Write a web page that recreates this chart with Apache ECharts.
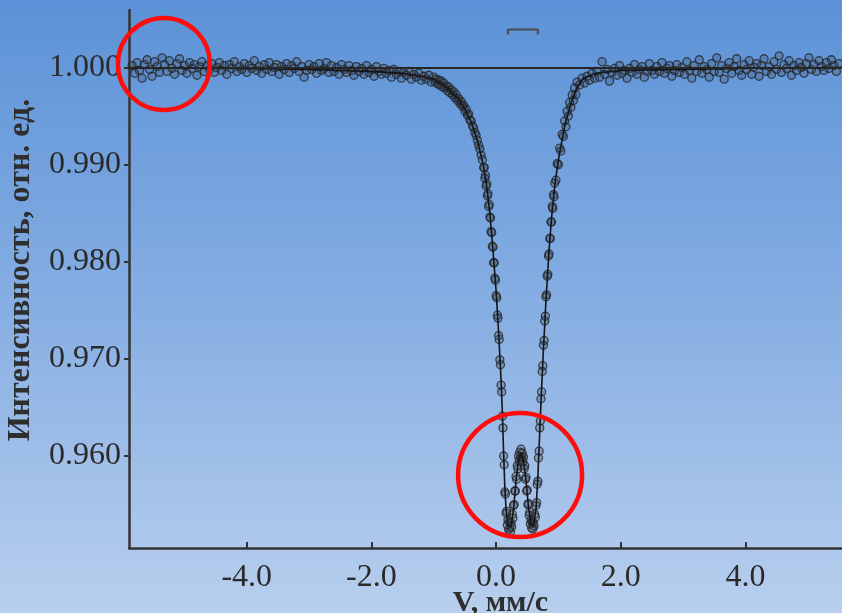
<!DOCTYPE html>
<html>
<head>
<meta charset="utf-8">
<script src="https://cdn.jsdelivr.net/npm/echarts@6/dist/echarts.min.js"></script>
<style>
html, body { margin: 0; padding: 0; }
#chart { width: 842px; height: 613px; }
</style>
</head>
<body>
<div id="chart"></div>
<script>
// мессбауэровский спектр: скорость (мм/с) -> интенсивность (отн. ед.)
const xTicks = [-4, -2, 0, 2, 4]
const yTicks = [0.96, 0.97, 0.98, 0.99, 1.0]
const baseline = 1.0

// экспериментальные точки
const spectrum = [
  [-5.84,1.0002],[-5.80,0.9994],[-5.76,1.0005],[-5.72,0.9997],[-5.68,0.9989],[-5.64,1.0003],[-5.60,1.0008],[-5.56,0.9998],
  [-5.52,0.9991],[-5.48,1.0006],[-5.44,1.0001],[-5.40,0.9995],[-5.36,1.0010],[-5.32,1.0003],[-5.28,0.9996],[-5.24,1.0007],
  [-5.20,0.9999],[-5.16,0.9993],[-5.12,1.0004],[-5.08,1.0009],[-5.04,0.9997],[-5.00,1.0002],[-4.96,0.9994],[-4.92,1.0005],
  [-4.88,0.9999],[-4.84,1.0003],[-4.80,0.9992],[-4.76,1.0001],[-4.72,1.0006],[-4.68,0.9996],[-4.64,1.0002],[-4.60,0.9998],
  [-4.56,1.0004],[-4.52,0.9995],[-4.48,1.0000],[-4.44,1.0005],[-4.40,0.9997],[-4.36,1.0002],[-4.32,0.9993],[-4.28,1.0003],
  [-4.24,0.9999],[-4.20,1.0006],[-4.16,0.9996],[-4.12,1.0001],[-4.08,0.9998],[-4.04,1.0004],[-4.00,0.9995],[-3.96,1.0002],
  [-3.92,0.9999],[-3.88,1.0007],[-3.84,0.9997],[-3.80,1.0001],[-3.76,0.9994],[-3.72,1.0003],[-3.68,0.9998],[-3.64,1.0005],
  [-3.60,0.9996],[-3.56,1.0000],[-3.52,1.0003],[-3.48,0.9993],[-3.44,1.0001],[-3.40,0.9998],[-3.36,1.0004],[-3.32,0.9995],
  [-3.28,1.0002],[-3.24,0.9999],[-3.20,1.0006],[-3.16,0.9996],[-3.12,1.0001],[-3.08,0.9990],[-3.04,0.9997],[-3.00,1.0003],
  [-2.96,0.9998],[-2.92,1.0001],[-2.88,0.9994],[-2.84,1.0004],[-2.80,0.9997],[-2.76,0.9999],[-2.72,1.0005],[-2.68,0.9995],
  [-2.64,1.0002],[-2.60,0.9996],[-2.56,1.0000],[-2.52,0.9993],[-2.48,1.0003],[-2.44,0.9998],[-2.40,0.9995],[-2.36,1.0002],
  [-2.32,0.9997],[-2.28,0.9992],[-2.24,1.0001],[-2.20,0.9996],[-2.16,0.9999],[-2.12,0.9993],[-2.08,1.0002],[-2.04,0.9995],
  [-2.00,0.9998],[-1.96,0.9991],[-1.92,1.0001],[-1.88,0.9996],[-1.84,0.9993],[-1.80,0.9999],[-1.76,0.9994],[-1.72,0.9997],
  [-1.68,0.9990],[-1.64,0.9998],[-1.60,0.9993],[-1.56,0.9996],[-1.52,0.9989],[-1.48,0.9995],[-1.44,0.9992],[-1.40,0.9996],
  [-1.36,0.9988],[-1.32,0.9993],[-1.28,0.9990],[-1.24,0.9994],[-1.20,0.9987],[-1.16,0.9991],[-1.12,0.9988],[-1.08,0.9992],
  [-1.04,0.9985],
  [-1.00,0.9990],[-0.98,0.9985],[-0.96,0.9988],[-0.94,0.9983],[-0.92,0.9987],[-0.90,0.9982],[-0.88,0.9986],[-0.86,0.9980],
  [-0.84,0.9984],[-0.82,0.9979],[-0.80,0.9981],[-0.78,0.9976],[-0.76,0.9980],[-0.74,0.9974],[-0.72,0.9977],[-0.70,0.9972],
  [-0.68,0.9975],[-0.66,0.9969],[-0.64,0.9972],[-0.62,0.9966],[-0.60,0.9968],[-0.58,0.9963],[-0.56,0.9965],[-0.54,0.9960],
  [-0.52,0.9961],[-0.50,0.9955],[-0.48,0.9957],[-0.46,0.9951],[-0.44,0.9952],[-0.42,0.9946],[-0.40,0.9945],[-0.38,0.9940],
  [-0.36,0.9938],[-0.34,0.9933],[-0.32,0.9930],[-0.30,0.9925],[-0.28,0.9920],[-0.26,0.9916],[-0.24,0.9910],[-0.22,0.9905],
  [-0.20,0.9897],
  [-0.19,0.9897],[-0.18,0.9886],[-0.17,0.9889],[-0.16,0.9878],[-0.15,0.9880],[-0.14,0.9868],[-0.13,0.9870],[-0.12,0.9857],
  [-0.11,0.9859],[-0.10,0.9846],[-0.09,0.9845],[-0.08,0.9831],[-0.07,0.9830],[-0.06,0.9816],[-0.05,0.9815],[-0.04,0.9799],
  [-0.03,0.9799],[-0.02,0.9783],[-0.01,0.9781],[0.00,0.9765],[0.01,0.9763],[0.02,0.9745],[0.03,0.9742],[0.04,0.9724],
  [0.05,0.9720],[0.06,0.9699],[0.07,0.9694],[0.08,0.9673],[0.09,0.9666],[0.10,0.9641],[0.11,0.9629],[0.12,0.9600],
  [0.13,0.9591],[0.14,0.9563],[0.15,0.9561],[0.16,0.9541],[0.17,0.9543],[0.18,0.9529],[0.19,0.9534],[0.20,0.9524],
  [0.21,0.9532],[0.22,0.9526],[0.23,0.9522],[0.24,0.9531],[0.25,0.9527],[0.26,0.9540],[0.27,0.9536],[0.28,0.9549],
  [0.29,0.9550],[0.30,0.9564],[0.31,0.9564],[0.32,0.9579],[0.33,0.9576],[0.34,0.9590],[0.35,0.9587],[0.36,0.9600],
  [0.37,0.9595],[0.38,0.9604],[0.39,0.9598],[0.40,0.9607],[0.41,0.9599],[0.42,0.9603],[0.43,0.9594],[0.44,0.9599],
  [0.45,0.9587],[0.46,0.9590],[0.47,0.9576],[0.48,0.9578],[0.49,0.9564],[0.50,0.9565],[0.51,0.9550],[0.52,0.9551],
  [0.53,0.9539],[0.54,0.9542],[0.55,0.9530],[0.56,0.9534],[0.57,0.9526],[0.58,0.9532],[0.59,0.9525],[0.60,0.9531],
  [0.61,0.9528],[0.62,0.9540],[0.63,0.9537],[0.64,0.9549],[0.65,0.9552],[0.66,0.9571],[0.67,0.9574],[0.68,0.9598],
  [0.69,0.9605],[0.70,0.9629],[0.71,0.9636],[0.72,0.9659],[0.73,0.9666],[0.74,0.9687],[0.75,0.9693],[0.76,0.9714],
  [0.77,0.9719],[0.78,0.9739],[0.79,0.9744],[0.80,0.9764],[0.81,0.9766],[0.82,0.9785],[0.83,0.9787],[0.84,0.9806],
  [0.85,0.9808],[0.86,0.9824],[0.87,0.9824],[0.88,0.9841],[0.89,0.9841],[0.90,0.9857],[0.91,0.9855],[0.92,0.9869],
  [0.93,0.9867],[0.94,0.9881],
  [0.96,0.9884],[0.98,0.9901],[1.00,0.9900],[1.02,0.9917],[1.04,0.9914],[1.06,0.9931],[1.08,0.9929],[1.10,0.9945],
  [1.12,0.9939],[1.14,0.9955],[1.16,0.9950],[1.18,0.9964],[1.20,0.9959],[1.22,0.9972],[1.24,0.9966],[1.26,0.9979],
  [1.28,0.9972],[1.30,0.9985],
  [1.34,0.9982],[1.38,0.9989],[1.42,0.9984],[1.46,0.9991],[1.50,0.9987],[1.54,0.9994],[1.58,0.9989],[1.62,0.9996],
  [1.66,0.9990],[1.70,1.0006],[1.74,0.9993],[1.78,0.9998],[1.82,0.9986],[1.86,0.9995],[1.90,0.9999],[1.94,0.9992],
  [1.98,1.0002],[2.02,0.9994],[2.06,0.9997],[2.10,0.9989],[2.14,0.9999],[2.18,0.9995],[2.22,1.0003],[2.26,0.9993],
  [2.30,0.9998],[2.34,1.0001],[2.38,0.9990],[2.42,0.9996],[2.46,1.0004],[2.50,0.9997],[2.54,0.9993],[2.58,1.0001],
  [2.62,0.9996],[2.66,1.0005],[2.70,0.9994],[2.74,0.9999],[2.78,1.0002],[2.82,0.9991],[2.86,0.9997],[2.90,1.0003],
  [2.94,0.9995],[2.98,1.0000],[3.02,0.9993],[3.06,1.0006],[3.10,0.9997],[3.14,0.9989],[3.18,1.0002],[3.22,0.9996],
  [3.26,1.0008],[3.30,0.9994],[3.34,1.0001],[3.38,0.9998],[3.42,0.9990],[3.46,1.0004],[3.50,0.9996],[3.54,1.0010],
  [3.58,0.9995],[3.62,1.0002],[3.66,0.9988],[3.70,0.9999],[3.74,1.0005],[3.78,0.9994],[3.82,1.0001],[3.86,1.0009],
  [3.90,0.9997],[3.94,0.9992],[3.98,1.0003],[4.02,0.9998],[4.06,1.0007],[4.10,0.9993],[4.14,1.0000],[4.18,1.0004],
  [4.22,0.9991],[4.26,1.0002],[4.30,1.0009],[4.34,0.9996],[4.38,1.0001],[4.42,0.9993],[4.46,1.0006],[4.50,0.9998],
  [4.54,1.0012],[4.58,0.9995],[4.62,1.0003],[4.66,0.9999],[4.70,1.0007],[4.74,0.9992],[4.78,1.0002],[4.82,0.9997],
  [4.86,1.0005],[4.90,1.0000],[4.94,0.9994],[4.98,1.0004],[5.02,1.0010],[5.06,0.9998],[5.10,1.0003],[5.14,0.9996],
  [5.18,1.0007],[5.22,1.0001],[5.26,0.9997],[5.30,1.0005],[5.34,0.9999],[5.38,1.0008],[5.42,1.0002],[5.46,0.9996],
  [5.50,1.0004]
]

// огибающая (модельная кривая)
const fitCurve = [
  [-5.89,1.0000],[-4.0,0.9999],[-3.0,0.9998],[-2.0,0.9996],[-1.5,0.9994],[-1.2,0.9991],[-1.0,0.9988],[-0.8,0.9980],
  [-0.6,0.9967],[-0.5,0.9957],[-0.4,0.9944],[-0.3,0.9925],[-0.2,0.9898],[-0.15,0.9877],[-0.1,0.9850],[-0.05,0.9812],
  [0.0,0.9770],[0.04,0.9728],[0.08,0.9678],[0.10,0.9645],[0.12,0.9605],[0.14,0.9568],[0.16,0.9545],[0.18,0.9533],
  [0.20,0.9528],[0.24,0.9527],[0.28,0.9545],[0.32,0.9575],[0.36,0.9596],[0.40,0.9603],[0.44,0.9596],[0.48,0.9575],
  [0.52,0.9547],[0.56,0.9530],[0.60,0.9528],[0.64,0.9545],[0.67,0.9578],[0.70,0.9625],[0.73,0.9670],[0.76,0.9710],
  [0.80,0.9760],[0.85,0.9812],[0.90,0.9853],[0.95,0.9883],[1.0,0.9905],[1.1,0.9940],[1.2,0.9963],[1.3,0.9980],
  [1.4,0.9989],[1.6,0.9994],[2.0,0.9997],[3.0,0.9998],[4.0,0.9999],[5.55,1.0000]
]

// метка положения линий дублета
const stickMarker = [[0.19,1.0034],[0.19,1.0039],[0.67,1.0039],[0.67,1.0034]]

// красные кольца (центр в координатах данных)
const rings = [
  { v: -5.33, i: 1.00036, radius: 46 },
  { v: 0.385, i: 0.95804, radius: 62 }
]

const font = 'Liberation Serif'
const chart = echarts.init(document.getElementById('chart'))

let option = {
  animation: false,
  backgroundColor: new echarts.graphic.LinearGradient(0, 0, 0, 1, [
    { offset: 0, color: '#5b92d7' },
    { offset: 0.5, color: '#86aee3' },
    { offset: 1, color: '#b8cfee' }
  ]),
  grid: {
    left: 129,
    right: 0,
    top: 10,
    bottom: 65,
    containLabel: false,
    outerBoundsMode: 'none'
  },
  xAxis: {
    type: 'value',
    min: -5.89,
    max: 5.55,
    name: 'V, мм/с',
    nameLocation: 'middle',
    nameGap: 40,
    nameMoveOverlap: false,
    nameTextStyle: {
      fontFamily: font,
      fontSize: 30,
      fontWeight: 'bold',
      color: '#2e2e2e',
      padding: [0, 0, 0, 30]
    },
    axisLine: { show: true, onZero: false, lineStyle: { color: '#333', width: 2.5 } },
    axisTick: { show: true, inside: true, length: 6, customValues: xTicks, lineStyle: { color: '#333', width: 2 } },
    axisLabel: {
      customValues: xTicks,
      margin: 14,
      fontFamily: font,
      fontSize: 32,
      color: '#2a2a2a',
      formatter: function (v) { return v.toFixed(1) }
    },
    splitLine: { show: false }
  },
  yAxis: {
    type: 'value',
    min: 0.95053,
    max: 1.00592,
    name: 'Интенсивность, отн. ед.',
    nameLocation: 'middle',
    nameGap: 92,
    nameMoveOverlap: false,
    nameTextStyle: {
      fontFamily: font,
      fontSize: 32,
      fontWeight: 'bold',
      color: '#2e2e2e',
      padding: [0, 0, 0, 18]
    },
    axisLine: { show: true, onZero: false, lineStyle: { color: '#333', width: 2.5 } },
    axisTick: { show: true, length: 5, customValues: yTicks, lineStyle: { color: '#333', width: 2 } },
    axisLabel: {
      customValues: yTicks,
      margin: 8,
      fontFamily: font,
      fontSize: 32,
      color: '#2a2a2a',
      formatter: function (v) { return v.toFixed(3) }
    },
    splitLine: { show: false }
  },
  series: [
    {
      name: 'эксперимент',
      type: 'scatter',
      data: spectrum,
      symbol: 'circle',
      symbolSize: 8,
      silent: true,
      itemStyle: {
        color: 'rgba(50,60,80,0.3)',
        borderColor: '#262626',
        borderWidth: 1.3
      },
      z: 2
    },
    {
      name: 'огибающая',
      type: 'line',
      data: fitCurve,
      showSymbol: false,
      silent: true,
      lineStyle: { color: '#151515', width: 1.6 },
      markLine: {
        silent: true,
        symbol: ['none', 'none'],
        label: { show: false },
        lineStyle: { color: '#262626', width: 2, type: 'solid' },
        data: [{ yAxis: baseline }]
      },
      z: 3
    },
    {
      name: 'дублет',
      type: 'line',
      data: stickMarker,
      showSymbol: false,
      silent: true,
      lineStyle: { color: '#4a4a4a', width: 2 },
      z: 3
    }
  ]
}

chart.setOption(option)

// кольца ставим по координатам данных
const ringShapes = rings.map(function (r) {
  const p = chart.convertToPixel({ gridIndex: 0 }, [r.v, r.i])
  return {
    type: 'circle',
    shape: { cx: p[0], cy: p[1], r: r.radius },
    style: { fill: 'none', stroke: '#ff0d0d', lineWidth: 4.5 },
    silent: true,
    z: 100
  }
})
chart.setOption({ graphic: ringShapes })
</script>
</body>
</html>
